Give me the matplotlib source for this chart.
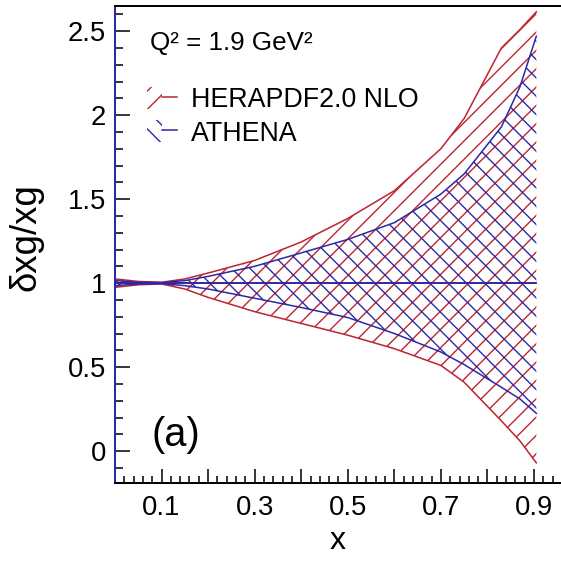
import matplotlib
matplotlib.use("Agg")
import matplotlib.pyplot as plt
from matplotlib.lines import Line2D
from matplotlib.patches import Patch
from matplotlib.legend_handler import HandlerTuple
from matplotlib.ticker import MultipleLocator, FuncFormatter

plt.rcParams["font.family"] = ["Liberation Sans", "DejaVu Sans"]
plt.rcParams["hatch.linewidth"] = 0.9

RED = "#bd2330"
BLUE = "#2a28a6"

# x grid shared by both bands
x = [0.0, 0.05, 0.1, 0.15, 0.2, 0.3, 0.4, 0.5, 0.6, 0.7, 0.75, 0.83, 0.87, 0.905]

# HERAPDF2.0 NLO relative uncertainty band
hera_up = [1.025, 1.01, 1.005, 1.025, 1.06, 1.135, 1.245, 1.385, 1.55, 1.80, 1.98, 2.40, 2.51, 2.615]
hera_lo = [0.975, 0.99, 0.995, 0.965, 0.915, 0.83, 0.76, 0.69, 0.61, 0.51, 0.41, 0.18, 0.06, -0.07]

# ATHENA relative uncertainty band
athena_up = [1.015, 1.005, 1.003, 1.015, 1.04, 1.10, 1.18, 1.26, 1.36, 1.53, 1.65, 1.93, 2.17, 2.47]
athena_lo = [0.985, 0.995, 0.997, 0.985, 0.965, 0.91, 0.855, 0.795, 0.70, 0.59, 0.515, 0.38, 0.31, 0.225]

central = [1.0] * len(x)

fig = plt.figure(figsize=(5.1, 5.1), dpi=110)
ax = fig.add_axes([0.205, 0.139, 0.795, 0.851])

ax.fill_between(x, hera_lo, hera_up, facecolor="none", edgecolor=RED, hatch="//", linewidth=0)
ax.plot(x, hera_up, color=RED, lw=1.0)
ax.plot(x, hera_lo, color=RED, lw=1.0)
ax.plot(x, central, color=RED, lw=1.0)

ax.fill_between(x, athena_lo, athena_up, facecolor="none", edgecolor=BLUE, hatch="\\\\", linewidth=0)
ax.plot(x, athena_up, color=BLUE, lw=1.0)
ax.plot(x, athena_lo, color=BLUE, lw=1.0)
ax.plot(x, central, color=BLUE, lw=1.2)

ax.set_xlim(0, 0.958)
ax.set_ylim(-0.19, 2.652)

ax.xaxis.set_major_locator(MultipleLocator(0.1))
ax.xaxis.set_minor_locator(MultipleLocator(0.02))
ax.yaxis.set_major_locator(MultipleLocator(0.5))
ax.yaxis.set_minor_locator(MultipleLocator(0.1))
ax.xaxis.set_major_formatter(FuncFormatter(lambda v, p: f"{v:.1f}" if round(v * 10) % 2 == 1 else ""))
ax.yaxis.set_major_formatter(FuncFormatter(lambda v, p: f"{v:g}"))

ax.tick_params(axis="both", which="both", direction="in", top=False, right=False, labelsize=18)
ax.tick_params(axis="x", which="major", length=9, width=1.0, pad=8)
ax.tick_params(axis="x", which="minor", length=4.5, width=1.0)
ax.tick_params(axis="y", which="major", length=9.5, width=1.0, pad=6)
ax.tick_params(axis="y", which="minor", length=5, width=1.0)

ax.spines["right"].set_visible(False)
for side in ("top", "bottom"):
    ax.spines[side].set_linewidth(1.3)
ax.spines["left"].set_color(BLUE)
ax.spines["left"].set_linewidth(1.3)

ax.set_xlabel("x", fontsize=21, labelpad=3)
ax.set_ylabel("δxg/xg", fontsize=24)
ax.yaxis.set_label_coords(-0.16, 0.515)

ax.text(0.078, 0.921, "Q² = 1.9 GeV²", transform=ax.transAxes, fontsize=17, va="center", ha="left")
ax.text(0.082, 0.10, "(a)", transform=ax.transAxes, fontsize=26, va="center", ha="left")

handles = [
    (Patch(facecolor="none", edgecolor=RED, hatch="//", linewidth=0), Line2D([], [], color=RED, lw=1.0)),
    (Patch(facecolor="none", edgecolor=BLUE, hatch="\\\\", linewidth=0), Line2D([], [], color=BLUE, lw=1.0)),
]
ax.legend(handles, ["HERAPDF2.0 NLO", "ATHENA"], handler_map={tuple: HandlerTuple(ndivide=None)},
          loc="upper left", bbox_to_anchor=(0.072, 0.83), frameon=False, fontsize=17.5,
          handlelength=1.1, handleheight=0.9, handletextpad=0.55, labelspacing=0.27,
          borderpad=0, borderaxespad=0)

fig.savefig("out.png", dpi=110)
